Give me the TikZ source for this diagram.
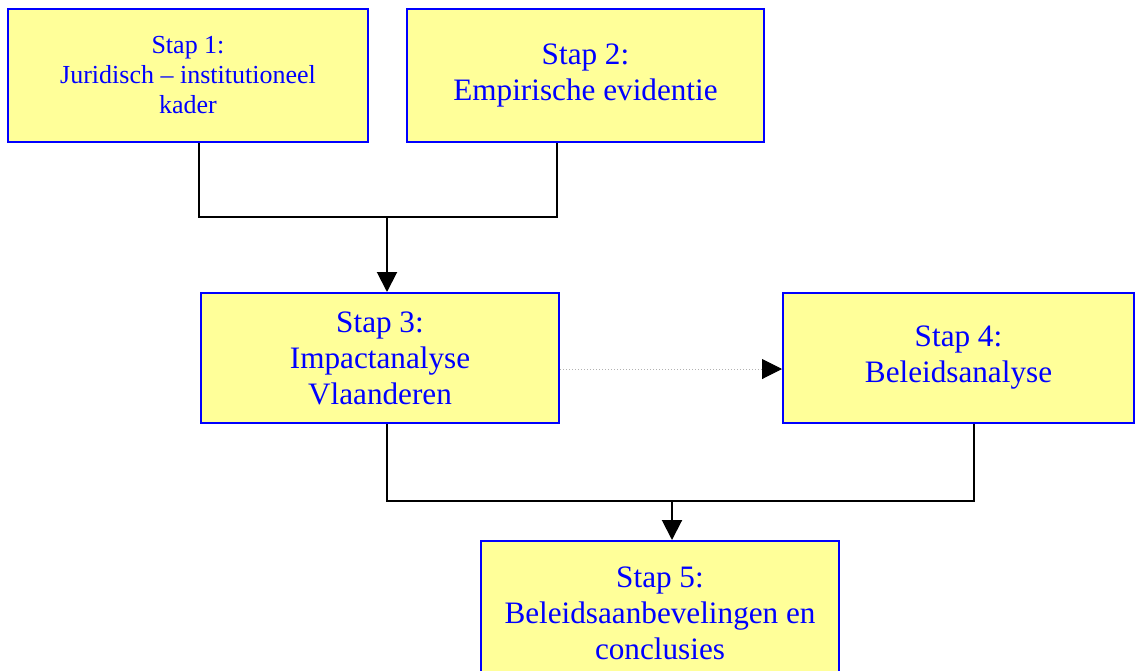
\documentclass[tikz,border=0pt]{standalone}
\usepackage{fontspec}
\setmainfont{Liberation Serif}
\usetikzlibrary{arrows.meta, positioning}
\definecolor{stapyellow}{RGB}{255,255,153}
\definecolor{stapblue}{RGB}{0,0,255}

\begin{document}
\begin{tikzpicture}[x=0.5pt, y=-0.5pt,
            % Styles
            stap/.style={rectangle, draw=stapblue, fill=stapyellow, line width=1pt, text=stapblue, align=center, inner sep=0pt, minimum width=179pt, minimum height=65pt, font=\fontsize{15.6}{18}\selectfont},
            line/.style={draw, black, line width=1pt},
            arrow/.style={line, -{Triangle[length=10pt, width=10pt]}},
            dottedline/.style={draw, gray!60, line width=0.5pt, densely dotted, -{Triangle[length=10pt, width=10pt, color=black]}}
        ]
        \useasboundingbox (0,0) rectangle (1135,670);

        % Nodes
        \node [stap, minimum width=180pt, minimum height=66.5pt, font=\fontsize{13}{15}\selectfont] (stap1) at (188,75.5) {
            Stap 1:\\
            Juridisch -- institutioneel\\
            kader
        };

        \node [stap, minimum width=178.5pt, minimum height=66.5pt] (stap2) at (585.5,75.5) {
            Stap 2:\\
            Empirische evidentie
        };

        % Middle row
        \node [stap] (stap3) at (380,358) {
            Stap 3:\\
            Impactanalyse\\
            Vlaanderen
        };

        \node [stap, minimum width=175.5pt] (stap4) at (958.5,358) {
            Stap 4:\\
            Beleidsanalyse
        };

        % Bottom
        \node [stap, minimum height=72pt] (stap5) at (660,613) {
            Stap 5:\\
            Beleidsaanbevelingen en\\
            conclusies
        };

        % Edges
        \coordinate (join12) at (387,217);
        \path [line] ([xshift=5.5pt]stap1.south) |- (join12);
        \path [line] ([xshift=-14.25pt]stap2.south) |- (join12);
        \path [arrow] (join12) -- (join12 |- stap3.north);

        \path [dottedline] ([yshift=-5.5pt]stap3.east) -- ([yshift=-5.5pt]stap4.west);

        \coordinate (join34) at (672,501);
        \path [line] ([xshift=3.3pt]stap3.south) |- (join34);
        \path [line] ([xshift=7.5pt]stap4.south) |- (join34);
        \path [arrow] (join34) -- (join34 |- stap5.north);

    \end{tikzpicture}
\end{document}
